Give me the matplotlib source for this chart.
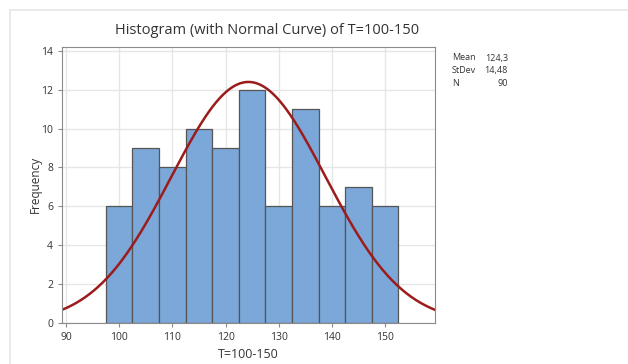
import matplotlib
matplotlib.use("Agg")
import matplotlib.pyplot as plt
import numpy as np

plt.rcParams['font.family'] = ['Open Sans', 'DejaVu Sans']

bin_left = [97.5, 102.5, 107.5, 112.5, 117.5, 122.5, 127.5, 132.5, 137.5, 142.5, 147.5]
counts = [6, 9, 8, 10, 9, 12, 6, 11, 6, 7, 6]
bin_width = 5
mean = 124.3
stdev = 14.48
n = 90

fig = plt.figure(figsize=(6.28, 3.64), dpi=100)
# light frame around the whole panel
fig.add_artist(plt.Rectangle((10 / 628, -0.1), 1.2, (364 - 10) / 364 + 0.1,
                             transform=fig.transFigure, fill=False,
                             edgecolor='#e6e6e6', linewidth=1.2))

ax = fig.add_axes([0.0987, 0.1135, 0.5943, 0.7575])
ax.set_axisbelow(True)
ax.grid(color='#e6e6e6', linewidth=1.0)

ax.bar(bin_left, counts, width=bin_width, align='edge',
       color='#7ba7d9', edgecolor='#555555', linewidth=0.9)

xs = np.linspace(89.25, 159.4, 400)
ys = n * bin_width / (stdev * np.sqrt(2 * np.pi)) * np.exp(-0.5 * ((xs - mean) / stdev) ** 2)
ax.plot(xs, ys, color='#9c1c1c', linewidth=1.8)

ax.set_xlim(89.25, 159.4)
ax.set_ylim(0, 14.2)
ax.set_xticks(range(90, 151, 10))
ax.set_yticks(range(0, 15, 2))
for s in ax.spines.values():
    s.set_color('#8a8a8a')
ax.tick_params(colors='#8a8a8a', labelcolor='#333333', labelsize=7.5, length=3)

ax.set_xlabel('T=100-150', fontsize=9, color='#333333', labelpad=4)
ax.set_ylabel('Frequency', fontsize=8.5, color='#333333')
ax.yaxis.set_label_coords(-0.055, 0.5)
fig.text(267 / 628, 1 - 30 / 364, 'Histogram (with Normal Curve) of T=100-150',
         ha='center', va='center', fontsize=10.5, color='#333333')

labels = ['Mean', 'StDev', 'N']
values = ['124,3', '14,48', '90']
for i, (lab, val) in enumerate(zip(labels, values)):
    y = 1 - (58 + i * 12.5) / 364
    fig.text(452 / 628, y, lab, ha='left', va='center', fontsize=6.5, color='#333333')
    fig.text(508 / 628, y, val, ha='right', va='center', fontsize=6.5, color='#333333')

fig.savefig('out.png', dpi=100)
